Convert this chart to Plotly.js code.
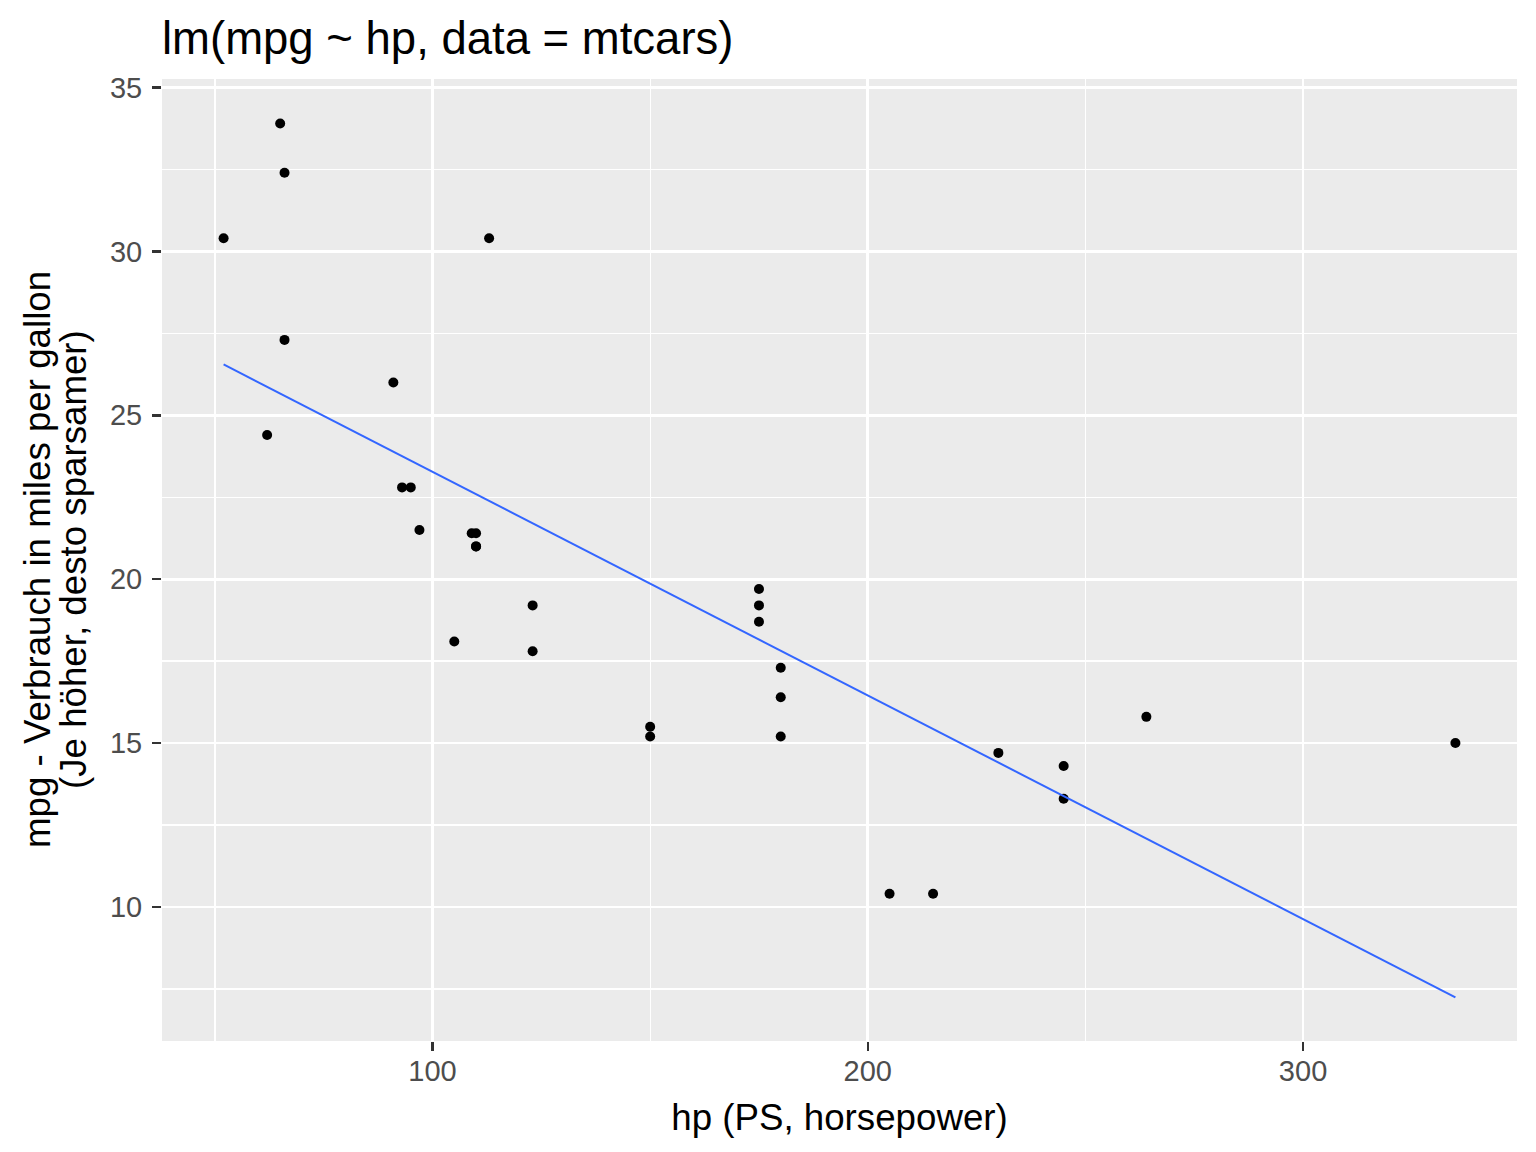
<!DOCTYPE html>
<html>
<head>
<meta charset="utf-8">
<script src="https://cdn.plot.ly/plotly-3.0.1.min.js"></script>
<style>html,body{margin:0;padding:0;background:#fff;}</style>
</head>
<body>
<div id="chart" style="width:1536px;height:1152px;"></div>
<script>
// mtcars: hp and mpg
const hp  = [110,110,93,110,175,105,245,62,95,123,123,180,180,180,205,215,230,66,52,65,97,150,150,245,175,66,91,113,264,175,335,109];
const mpg = [21.0,21.0,22.8,21.4,18.7,18.1,14.3,24.4,22.8,19.2,17.8,16.4,17.3,15.2,10.4,10.4,14.7,32.4,30.4,33.9,21.5,15.5,15.2,13.3,19.2,27.3,26.0,30.4,15.8,19.7,15.0,21.4];
const xTicks = [100, 200, 300];
const xMinor = [50, 150, 250];
const yTicks = [10, 15, 20, 25, 30, 35];
const yMinor = [7.5, 12.5, 17.5, 22.5, 27.5, 32.5];

// least squares fit lm(mpg ~ hp)
const n = hp.length;
const mx = hp.reduce((a,b)=>a+b,0)/n;
const my = mpg.reduce((a,b)=>a+b,0)/n;
let sxy = 0, sxx = 0;
for (let i=0;i<n;i++){ sxy += (hp[i]-mx)*(mpg[i]-my); sxx += (hp[i]-mx)*(hp[i]-mx); }
const slope = sxy/sxx, intercept = my - slope*mx;
const xmin = Math.min(...hp), xmax = Math.max(...hp);
const lineX = [xmin, xmax];
const lineY = lineX.map(x => intercept + slope*x);

const FONT = '"Liberation Sans", Arial, sans-serif';

const traces = [
  {x: hp, y: mpg, type:'scatter', mode:'markers',
   marker:{color:'#000000', size:10}, hoverinfo:'x+y'},
  {x: lineX, y: lineY, type:'scatter', mode:'lines',
   line:{color:'#3366FF', width:2}, hoverinfo:'skip'}
];

const axisCommon = {
  ticks:'outside', ticklen:9, tickwidth:2.5, tickcolor:'#333333',
  tickfont:{family:FONT, size:29, color:'#4D4D4D'},
  showgrid:true, gridcolor:'#FFFFFF', gridwidth:2.7,
  zeroline:false, showline:false
};

const layout = {
  width:1536, height:1152,
  margin:{l:162, r:19, t:79, b:111, pad:0},
  paper_bgcolor:'#FFFFFF', plot_bgcolor:'#EBEBEB',
  showlegend:false,
  font:{family:FONT, color:'#000000'},
  title:{text:'lm(mpg ~ hp, data = mtcars)', font:{family:FONT, size:45.5, color:'#000000'},
         xref:'container', yref:'container', x:162/1536, xanchor:'left', y:1-38/1152, yanchor:'middle'},
  xaxis: Object.assign({}, axisCommon, {
    range:[37.85, 349.15], tickmode:'array', tickvals:xTicks, ticklabelstandoff:-5,
    minor:{tickmode:'array', tickvals:xMinor, showgrid:true, gridcolor:'#FFFFFF', gridwidth:1.3, ticks:''},
    title:{text:'hp (PS, horsepower)', font:{family:FONT, size:36.7, color:'#000000'}, standoff:18}
  }),
  yaxis: Object.assign({}, axisCommon, {
    range:[5.91, 35.26], tickmode:'array', tickvals:yTicks, ticklabelstandoff:4,
    minor:{tickmode:'array', tickvals:yMinor, showgrid:true, gridcolor:'#FFFFFF', gridwidth:1.3, ticks:''}
  }),
  annotations:[
    {text:'mpg - Verbrauch in miles per gallon', textangle:-90, showarrow:false,
     xref:'paper', yref:'paper', x:-(162-37)/1355, y:0.5, xanchor:'center', yanchor:'middle',
     font:{family:FONT, size:36.7, color:'#000000'}},
    {text:'(Je höher, desto sparsamer)', textangle:-90, showarrow:false,
     xref:'paper', yref:'paper', x:-(162-73)/1355, y:0.5, xanchor:'center', yanchor:'middle',
     font:{family:FONT, size:36.7, color:'#000000'}}
  ]
};

Plotly.newPlot('chart', traces, layout, {displayModeBar:false, staticPlot:true});
</script>
</body>
</html>
